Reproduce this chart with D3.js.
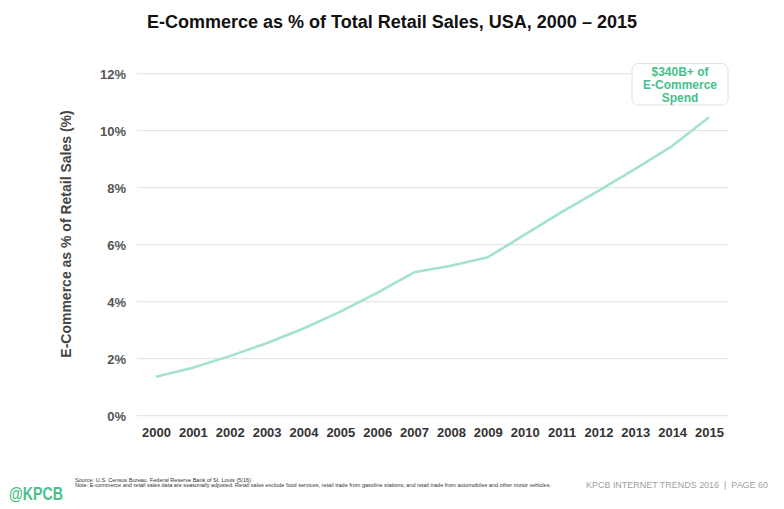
<!DOCTYPE html>
<html>
<head>
<meta charset="utf-8">
<script src="https://cdn.jsdelivr.net/npm/d3@7"></script>
<style>
  html, body { margin: 0; padding: 0; background: #fff; }
  svg { display: block; font-family: "Liberation Sans", Arial, Helvetica, sans-serif; }
</style>
</head>
<body>
<svg id="chart" width="784" height="509"></svg>
<script>
const years = [2000, 2001, 2002, 2003, 2004, 2005, 2006, 2007, 2008, 2009, 2010, 2011, 2012, 2013, 2014, 2015];
const ecommerceShare = [1.37, 1.68, 2.09, 2.54, 3.06, 3.65, 4.31, 5.03, 5.26, 5.56, 6.35, 7.14, 7.89, 8.66, 9.46, 10.47];
const yTicks = [0, 2, 4, 6, 8, 10, 12];
const titleText = "E-Commerce as % of Total Retail Sales, USA, 2000 \u2013 2015";
const yAxisLabel = "E-Commerce as % of Retail Sales (%)";
const calloutLines = ["$340B+ of", "E-Commerce", "Spend"];
const sourceLines = [
  "Source: U.S. Census Bureau, Federal Reserve Bank of St. Louis (5/16)",
  "Note: E-commerce and retail sales data are seasonally adjusted. Retail sales exclude food services, retail trade from gasoline stations, and retail trade from automobiles and other motor vehicles."
];
const footerRight = "KPCB INTERNET TRENDS 2016  |  PAGE 60";

const svg = d3.select("#chart");

const x = d3.scalePoint().domain(years).range([156, 709]);
const y = d3.scaleLinear().domain([0, 12]).range([415.7, 73.7]);

// Title
svg.append("text")
  .attr("x", 392).attr("y", 28)
  .attr("text-anchor", "middle")
  .attr("font-size", 18).attr("font-weight", "bold")
  .attr("fill", "#111")
  .text(titleText);

// Gridlines
svg.append("g").selectAll("line").data(yTicks).join("line")
  .attr("x1", 137).attr("x2", 728)
  .attr("y1", d => y(d)).attr("y2", d => y(d))
  .attr("stroke", "#e6e6e6").attr("stroke-width", 1.2);

// Y axis
const yAxis = d3.axisLeft(y).tickValues(yTicks).tickFormat(d => d + "%").tickSize(0).tickPadding(0);
const gy = svg.append("g").attr("transform", "translate(126,0)").call(yAxis);
gy.select(".domain").remove();
gy.selectAll("text")
  .attr("font-size", 13).attr("font-weight", "bold")
  .attr("fill", "#555").attr("font-family", "Liberation Sans, Arial, sans-serif")
  .attr("dy", "0.35em");

// X axis
const xAxis = d3.axisBottom(x).tickSize(0).tickPadding(0);
const gx = svg.append("g").attr("transform", "translate(0,428)").call(xAxis);
gx.select(".domain").remove();
gx.selectAll("text")
  .attr("font-size", 13).attr("font-weight", "bold")
  .attr("fill", "#333").attr("font-family", "Liberation Sans, Arial, sans-serif");

// Y axis label
svg.append("text")
  .attr("transform", "translate(71,234) rotate(-90)")
  .attr("text-anchor", "middle")
  .attr("font-size", 14).attr("font-weight", "bold")
  .attr("fill", "#444")
  .text(yAxisLabel);

// Line
const line = d3.line().x((d, i) => x(years[i])).y(d => y(d));
svg.append("path")
  .datum(ecommerceShare)
  .attr("d", line)
  .attr("fill", "none")
  .attr("stroke", "#a3e4c9")
  .attr("stroke-width", 2.6)
  .attr("stroke-linejoin", "round");

// Callout box
svg.append("rect")
  .attr("x", 632).attr("y", 63.5).attr("width", 96).attr("height", 41.5)
  .attr("rx", 6).attr("ry", 6)
  .attr("fill", "#fff").attr("stroke", "#e2e2e2").attr("stroke-width", 1);
svg.append("g").selectAll("text").data(calloutLines).join("text")
  .attr("x", 680).attr("y", (d, i) => 75.5 + i * 13.3)
  .attr("text-anchor", "middle")
  .attr("font-size", 12).attr("font-weight", "bold")
  .attr("fill", "#45bf8b")
  .text(d => d);

// Footer
svg.append("text")
  .attr("x", 9).attr("y", 500)
  .attr("font-size", 19).attr("font-weight", "bold")
  .attr("fill", "#4cbf8c")
  .attr("textLength", 54).attr("lengthAdjust", "spacingAndGlyphs")
  .text("@KPCB");

svg.append("text")
  .attr("x", 75).attr("y", 482)
  .attr("font-size", 5.5).attr("fill", "#333")
  .attr("textLength", 176).attr("lengthAdjust", "spacingAndGlyphs")
  .text(sourceLines[0]);
svg.append("text")
  .attr("x", 75).attr("y", 486.5)
  .attr("font-size", 5.5).attr("fill", "#333")
  .attr("textLength", 476).attr("lengthAdjust", "spacingAndGlyphs")
  .text(sourceLines[1]);

svg.append("text")
  .attr("x", 768).attr("y", 488)
  .attr("text-anchor", "end")
  .attr("font-size", 9.5).attr("fill", "#a0a0a0")
  .attr("textLength", 182).attr("lengthAdjust", "spacingAndGlyphs")
  .style("white-space", "pre")
  .text(footerRight);
</script>
</body>
</html>
